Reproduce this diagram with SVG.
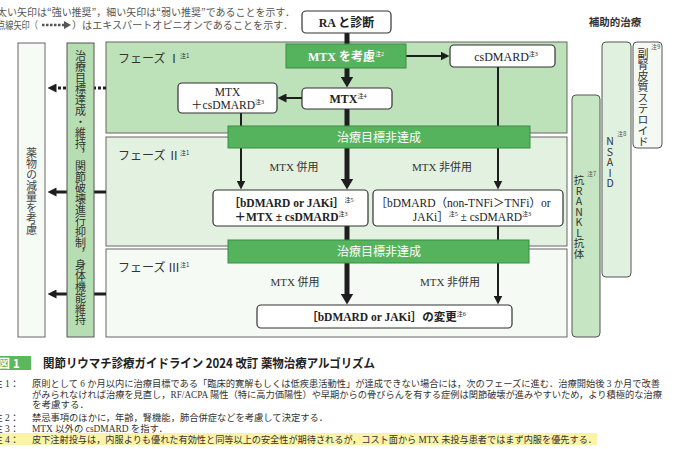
<svg xmlns="http://www.w3.org/2000/svg" width="700" height="449" viewBox="0 0 700 449">
<style>
.g{font-family:"Noto Sans CJK JP","Noto Sans",sans-serif}
.s{font-family:"Liberation Serif","Noto Sans CJK JP",serif}
.box{fill:#fff;stroke:#333;stroke-width:1.2}
.gbar{fill:#55b35e;stroke:#3b8c42;stroke-width:1}
.ph{stroke:#666;stroke-width:1}
.thick{stroke:#1e1e1e;stroke-width:5;fill:none}
.thin{stroke:#1e1e1e;stroke-width:2;fill:none}
.vt{writing-mode:vertical-rl}
.up{writing-mode:vertical-rl;text-orientation:upright}
.note{font-size:9.5px;fill:#333}
.sup{font-size:6px}
</style>
<defs>
<marker id="ahThick" markerUnits="userSpaceOnUse" markerWidth="11" markerHeight="13" refX="0.5" refY="6.5" orient="auto"><path d="M0,0 L11,6.5 L0,13 z" fill="#1e1e1e"/></marker>
<marker id="ahThin" markerUnits="userSpaceOnUse" markerWidth="9" markerHeight="9" refX="0.5" refY="4.5" orient="auto"><path d="M0,0 L9,4.5 L0,9 z" fill="#1e1e1e"/></marker>
</defs>
<rect width="700" height="449" fill="#fff"/>

<!-- legend -->
<g id="legend" class="g" font-size="10" fill="#555">
<text x="-3" y="15.5" textLength="298" lengthAdjust="spacingAndGlyphs">太い矢印は“強い推奨”，細い矢印は“弱い推奨”であることを示す．</text>
<text x="-3" y="28.5" textLength="41" lengthAdjust="spacingAndGlyphs">点線矢印（</text>
<line x1="42" y1="25" x2="64" y2="25" stroke="#555" stroke-width="2.5" stroke-dasharray="2.5,1.5"/>
<path d="M64,21 L71,25 L64,29 z" fill="#555"/>
<text x="72" y="28.5" textLength="221" lengthAdjust="spacingAndGlyphs">）はエキスパートオピニオンであることを示す．</text>
</g>

<!-- phase regions -->
<g id="phase1">
<rect class="ph" x="106" y="42" width="461" height="91" fill="#bde1b9"/>
<text class="g" x="118" y="62.5" font-size="12" fill="#333">フェーズ Ⅰ<tspan class="sup" dy="-5">注1</tspan></text>
</g>
<g id="phase2">
<rect class="ph" x="106" y="137" width="461" height="109" fill="#e3f1e1"/>
<text class="g" x="118" y="159.5" font-size="12" fill="#333">フェーズ Ⅱ<tspan class="sup" dy="-5">注1</tspan></text>
</g>
<g id="phase3">
<rect class="ph" x="106" y="249" width="461" height="88" fill="#f5faf4"/>
<text class="g" x="118" y="271.5" font-size="12" fill="#333">フェーズ Ⅲ<tspan class="sup" dy="-5">注1</tspan></text>
</g>

<!-- connectors -->
<g id="connectors">
<line class="thick" x1="347" y1="33" x2="347" y2="45"/>
<line class="thick" x1="347" y1="68" x2="347" y2="77" marker-end="url(#ahThick)"/>
<line class="thin" x1="406" y1="56" x2="441" y2="56" stroke-width="2.5" marker-end="url(#ahThin)"/>
<line class="thin" x1="302" y1="98" x2="286" y2="98" stroke-width="2.5" marker-end="url(#ahThin)"/>
<line class="thick" x1="347" y1="109" x2="347" y2="127"/>
<line class="thin" x1="241" y1="113" x2="241" y2="127"/>
<line class="thin" x1="498" y1="67" x2="498" y2="127"/>
<line class="thin" x1="241" y1="148" x2="241" y2="181" marker-end="url(#ahThin)"/>
<line class="thick" x1="347" y1="148" x2="347" y2="179" marker-end="url(#ahThick)"/>
<line class="thin" x1="498" y1="148" x2="498" y2="181" marker-end="url(#ahThin)"/>
<line class="thick" x1="347" y1="226" x2="347" y2="241"/>
<line class="thin" x1="498" y1="226" x2="498" y2="241"/>
<line class="thick" x1="347" y1="263" x2="347" y2="294" marker-end="url(#ahThick)"/>
<line class="thin" x1="498" y1="263" x2="498" y2="296" marker-end="url(#ahThin)"/>
<line x1="106" y1="88" x2="56" y2="88" stroke="#1e1e1e" stroke-width="3" stroke-dasharray="3,2" marker-end="url(#ahThin)"/>
<line x1="106" y1="192" x2="56" y2="192" stroke="#1e1e1e" stroke-width="3" marker-end="url(#ahThin)"/>
<line x1="106" y1="294" x2="56" y2="294" stroke="#1e1e1e" stroke-width="3" marker-end="url(#ahThin)"/>
</g>

<!-- left column -->
<g id="reduce">
<rect x="18" y="43" width="27" height="294" fill="#f6fbf6" stroke="#666"/>
<text class="g vt" x="31.5" y="147" font-size="11" fill="#444">薬物の減量を考慮</text>
</g>
<g id="goal">
<rect x="67" y="43" width="27" height="294" fill="#b7ddb3" stroke="#555"/>
<text class="g vt" x="80.5" y="50" font-size="11" fill="#333">治療目標達成・維持，関節破壊進行抑制，身体機能維持</text>
</g>

<!-- flow nodes -->
<g id="ra">
<rect class="box" x="302" y="11" width="89" height="22" rx="4"/>
<text class="s" x="346.5" y="26.5" font-size="12" font-weight="bold" text-anchor="middle" fill="#222">RA と診断</text>
</g>
<g id="mtx-consider">
<rect class="gbar" x="286" y="44" width="120" height="24"/>
<text class="s" x="346" y="60.5" font-size="12" font-weight="bold" text-anchor="middle" fill="#fff">MTX を考慮<tspan class="sup" dy="-5" font-weight="normal">注2</tspan></text>
</g>
<g id="csdmard">
<rect class="box" x="450" y="45" width="105" height="22" rx="4"/>
<text class="s" x="506" y="60.5" font-size="12" text-anchor="middle" fill="#222">csDMARD<tspan class="sup" dy="-5">注3</tspan></text>
</g>
<g id="mtx">
<rect class="box" x="302" y="88" width="90" height="21" rx="4"/>
<text class="s" x="348" y="103" font-size="12" font-weight="bold" text-anchor="middle" fill="#222">MTX<tspan class="sup" dy="-5" font-weight="normal">注4</tspan></text>
</g>
<g id="mtx-cs">
<rect class="box" x="178" y="83" width="99" height="30" rx="4"/>
<text class="s" x="227.5" y="96" font-size="11.5" text-anchor="middle" fill="#222">MTX</text>
<text class="s" x="227.5" y="109" font-size="11.5" text-anchor="middle" fill="#222">＋csDMARD<tspan class="sup" dy="-5">注3</tspan></text>
</g>
<g id="notmet1">
<rect class="gbar" x="228" y="126" width="302" height="22"/>
<text class="g" x="379" y="141.5" font-size="12" text-anchor="middle" fill="#fff">治療目標非達成</text>
</g>
<g id="p2-labels" class="s" font-size="11" fill="#333" text-anchor="middle">
<text x="294" y="171">MTX 併用</text>
<text x="442" y="171">MTX 非併用</text>
</g>
<g id="p2-left">
<rect class="box" x="213" y="190" width="155" height="36" rx="4"/>
<text class="s" x="291" y="207" font-size="11.5" font-weight="bold" text-anchor="middle" fill="#222">［bDMARD or JAKi］<tspan class="sup" dy="-5" font-weight="normal">注5</tspan></text>
<text class="s" x="291" y="221" font-size="11.5" font-weight="bold" text-anchor="middle" fill="#222">＋MTX ± csDMARD<tspan class="sup" dy="-5" font-weight="normal">注3</tspan></text>
</g>
<g id="p2-right">
<rect class="box" x="373" y="190" width="190" height="36" rx="4"/>
<text class="s" x="463" y="207" font-size="11.5" text-anchor="middle" fill="#222">［bDMARD（non-TNFi＞TNFi）or</text>
<text class="s" x="472" y="221" font-size="11.5" text-anchor="middle" fill="#222">JAKi］<tspan class="sup" dy="-5">注5</tspan><tspan dy="5"> ± csDMARD</tspan><tspan class="sup" dy="-5">注3</tspan></text>
</g>
<g id="notmet2">
<rect class="gbar" x="228" y="240" width="301" height="23"/>
<text class="g" x="379" y="256" font-size="12" text-anchor="middle" fill="#fff">治療目標非達成</text>
</g>
<g id="p3-labels" class="s" font-size="11" fill="#333" text-anchor="middle">
<text x="295" y="286">MTX 併用</text>
<text x="450" y="286">MTX 非併用</text>
</g>
<g id="p3-box">
<rect class="box" x="257" y="305" width="255" height="23" rx="4"/>
<text class="s" x="386" y="320.5" font-size="11.5" font-weight="bold" text-anchor="middle" fill="#222">［bDMARD or JAKi］の変更<tspan class="sup" dy="-5" font-weight="normal">注6</tspan></text>
</g>

<!-- adjunct therapy -->
<g id="adjunct-title">
<text class="g" x="615" y="25.5" font-size="10.5" font-weight="bold" text-anchor="middle" fill="#333">補助的治療</text>
</g>
<g id="steroid">
<rect x="633" y="42" width="29" height="106" rx="4" fill="#f4f9f3" stroke="#555"/>
<text class="g vt" x="643" y="48" font-size="11" fill="#333">副腎皮質ステロイド</text>
<text class="g sup" x="651" y="49" fill="#555">注9</text>
</g>
<g id="nsaid">
<rect x="602" y="42" width="29" height="235" rx="4" fill="#e1f1df" stroke="#555"/>
<text class="g up" x="610" y="136" font-size="10.5" fill="#333">NSAID</text>
<text class="g sup" x="617" y="136" fill="#555">注8</text>
</g>
<g id="rankl">
<rect x="572" y="95" width="28" height="242" rx="4" fill="#c6e5c3" stroke="#555"/>
<text class="g up" x="579" y="175" font-size="10.5" fill="#333">抗RANKL抗体</text>
<text class="g sup" x="587" y="176" fill="#555">注7</text>
</g>

<!-- caption -->
<g id="caption">
<rect x="-4" y="356" width="35" height="14" fill="#5cb85c"/>
<text class="g" x="-2" y="367.5" font-size="12" font-weight="bold" fill="#fff">図 1</text>
<text class="g" x="43" y="368" font-size="12.5" font-weight="bold" fill="#222" textLength="332" lengthAdjust="spacingAndGlyphs">関節リウマチ診療ガイドライン 2024 改訂 薬物治療アルゴリズム</text>
<rect x="0" y="433" width="597" height="12" fill="#fbf3a8"/>
<g class="s note">
<text x="-7" y="387">注 1：</text>
<text x="32" y="387" textLength="628" lengthAdjust="spacingAndGlyphs">原則として 6 か月以内に治療目標である「臨床的寛解もしくは低疾患活動性」が達成できない場合には，次のフェーズに進む．治療開始後 3 か月で改善</text>
<text x="32" y="397.5" textLength="630" lengthAdjust="spacingAndGlyphs">がみられなければ治療を見直し，RF/ACPA 陽性（特に高力価陽性）や早期からの骨びらんを有する症例は関節破壊が進みやすいため，より積極的な治療</text>
<text x="32" y="408">を考慮する．</text>
<text x="-7" y="421">注 2：</text>
<text x="32" y="421" textLength="296" lengthAdjust="spacingAndGlyphs">禁忌事項のほかに，年齢，腎機能，肺合併症などを考慮して決定する．</text>
<text x="-7" y="432">注 3：</text>
<text x="32" y="432" textLength="136" lengthAdjust="spacingAndGlyphs">MTX 以外の csDMARD を指す．</text>
<text x="-7" y="443">注 4：</text>
<text x="32" y="443" textLength="565" lengthAdjust="spacingAndGlyphs">皮下注射投与は，内服よりも優れた有効性と同等以上の安全性が期待されるが，コスト面から MTX 未投与患者ではまず内服を優先する．</text>
</g>
</g>
</svg>
